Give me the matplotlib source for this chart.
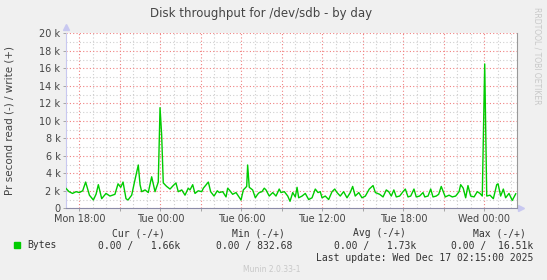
import matplotlib
matplotlib.use("Agg")
import matplotlib.pyplot as plt
from matplotlib.ticker import MultipleLocator, FuncFormatter

# hours relative to Mon 18:00, write throughput in kB/s
hours = [
  -1.00, -0.76, -0.50, -0.24, 0.00, 0.25, 0.47, 0.75, 1.04, 1.24, 1.41, 1.66, 1.98,
  2.27, 2.64, 2.87, 3.07, 3.24, 3.46, 3.61, 3.88, 4.13, 4.37, 4.50, 4.62, 4.87,
  5.11, 5.36, 5.61, 5.85, 5.98, 6.10, 6.22, 6.47, 6.72, 6.96, 7.16, 7.33, 7.59,
  7.83, 8.07, 8.20, 8.40, 8.57, 8.81, 9.07, 9.19, 9.56, 9.73, 9.98, 10.22, 10.37,
  10.62, 10.87, 10.99, 11.11, 11.36, 11.61, 11.98, 12.15, 12.40, 12.47, 12.59,
  12.84, 13.04, 13.21, 13.33, 13.53, 13.70, 13.83, 14.07, 14.33, 14.57, 14.81,
  14.94, 15.19, 15.44, 15.61, 15.81, 16.00, 16.13, 16.25, 16.50, 16.74, 16.99,
  17.24, 17.48, 17.68, 17.85, 17.98, 18.22, 18.47, 18.72, 18.92, 19.09, 19.33,
  19.58, 19.83, 20.07, 20.25, 20.44, 20.70, 20.94, 21.19, 21.48, 21.76, 21.93,
  22.25, 22.50, 22.74, 22.92, 23.11, 23.30, 23.48, 23.73, 23.98, 24.15, 24.35,
  24.55, 24.79, 24.96, 25.21, 25.46, 25.59, 25.83, 26.03, 26.20, 26.44, 26.62,
  26.81, 27.11, 27.39, 27.63, 27.88, 28.13, 28.25, 28.44, 28.62, 28.79, 28.99,
  29.24, 29.48, 29.68, 29.85, 30.03, 30.18, 30.42, 30.67, 30.92, 31.02, 31.21,
  31.41, 31.58, 31.83, 32.07, 32.33,
]
write_k = [
  2.3, 1.9, 1.7, 1.9, 1.8, 2.0, 3.0, 1.5, 0.95, 1.6, 2.7, 1.1, 1.7,
  1.4, 1.6, 2.8, 2.4, 3.0, 1.1, 0.95, 1.5, 3.3, 4.95, 2.7, 1.9, 2.1,
  1.8, 3.6, 1.9, 3.0, 11.5, 8.4, 2.9, 2.5, 2.2, 2.6, 2.9, 1.9, 2.1,
  1.5, 2.3, 2.1, 2.7, 1.7, 2.0, 1.9, 2.3, 3.0, 1.9, 1.4, 2.0, 1.8,
  1.9, 1.3, 2.3, 2.1, 1.6, 1.8, 0.95, 2.1, 2.5, 4.95, 2.4,
  2.1, 1.2, 1.6, 1.8, 1.9, 2.3, 2.1, 1.4, 1.8, 1.4, 2.2,
  1.8, 1.9, 1.4, 0.8, 1.8, 1.3, 2.4, 1.2, 1.4, 1.7, 1.0,
  1.2, 2.2, 1.8, 1.9, 1.2, 1.4, 1.0, 1.9, 2.2, 1.8, 1.4,
  1.9, 1.2, 1.8, 2.5, 1.4, 1.8, 1.2, 1.4, 2.2, 2.6, 1.8,
  1.6, 1.3, 2.1, 1.9, 1.4, 2.1, 1.3, 1.4, 1.9, 2.2, 1.3,
  1.4, 2.2, 1.3, 1.4, 1.8, 1.3, 1.4, 2.2, 1.3, 1.4, 1.6,
  2.5, 1.3, 1.5, 1.3, 1.4, 1.9, 2.7, 2.3, 1.2, 2.6, 1.4,
  1.3, 1.9, 1.7, 1.4, 16.5, 1.4, 1.5, 1.1, 2.7, 2.8, 1.4,
  2.2, 1.2, 1.7, 0.9, 1.66,
]
day_labels = {0: "Mon 18:00", 6: "Tue 00:00", 12: "Tue 06:00", 18: "Tue 12:00",
              24: "Tue 18:00", 30: "Wed 00:00"}

W, H = 547, 280
fig = plt.figure(figsize=(W / 100, H / 100), dpi=100, facecolor="#F0F0F0")
ax = fig.add_axes([66 / W, 1 - 208.3 / H, 450.7 / W, 175 / H])
ax.set_facecolor("white")

ax.plot(hours, write_k, color="#00CC00", lw=1.0, zorder=3)

ax.set_xlim(-0.985, 32.4)
ax.set_ylim(0, 20)

ax.xaxis.set_major_locator(MultipleLocator(3))
ax.xaxis.set_minor_locator(MultipleLocator(1))
ax.yaxis.set_major_locator(MultipleLocator(2))
ax.yaxis.set_minor_locator(MultipleLocator(1))
ax.xaxis.set_major_formatter(FuncFormatter(lambda v, p: day_labels.get(int(round(v)), "")))
ax.yaxis.set_major_formatter(FuncFormatter(lambda v, p: "0" if v == 0 else f"{int(v)} k"))

ax.grid(which="major", color="#F08080", ls=(0, (1, 2)), lw=0.8)
ax.grid(which="minor", color="#CFCFCF", ls=(0, (1, 2)), lw=0.8)
ax.tick_params(which="both", length=2, width=0.6, color="#999999", labelsize=7,
               labelcolor="#444444", pad=2)
ax.tick_params(axis="x", which="minor", length=0)
ax.tick_params(axis="y", which="minor", length=0)

ax.spines["top"].set_visible(False)
ax.spines["left"].set_color("#C8C8F0")
ax.spines["bottom"].set_color("#8C8CA8")
ax.spines["right"].set_color("#999999")
ax.plot([0], [1.035], marker="^", color="#C8C8F0", ms=4, transform=ax.transAxes, clip_on=False)
ax.plot([1.01], [0], marker=">", color="#C8C8F0", ms=4, transform=ax.transAxes, clip_on=False)

def px(x, y):
  return x / W, 1 - y / H

fig.text(*px(260.8, 13), "Disk throughput for /dev/sdb - by day", ha="center", va="center",
         fontsize=8.5, color="#444444")
fig.text(*px(10, 120.8), "Pr second read (-) / write (+)", rotation=90, ha="center",
         va="center", fontsize=7.5, color="#444444")
fig.text(*px(537, 7), "RRDTOOL / TOBI OETIKER", rotation=270, ha="center", va="top",
         fontsize=5.5, color="#C8C8C8")

mono = dict(family="DejaVu Sans Mono", fontsize=7, color="#333333", va="center")
fig.text(*px(112, 233.3), "Cur (-/+)", ha="left", **mono)
fig.text(*px(232, 233.3), "Min (-/+)", ha="left", **mono)
fig.text(*px(353, 233.3), "Avg (-/+)", ha="left", **mono)
fig.text(*px(473, 233.3), "Max (-/+)", ha="left", **mono)
fig.text(*px(27, 245.5), "Bytes", ha="left", **mono)
fig.text(*px(180, 245.5), "0.00 /   1.66k", ha="right", **mono)
fig.text(*px(292, 245.5), "0.00 / 832.68", ha="right", **mono)
fig.text(*px(416, 245.5), "0.00 /   1.73k", ha="right", **mono)
fig.text(*px(533, 245.5), "0.00 /  16.51k", ha="right", **mono)
fig.text(*px(533, 257.7), "Last update: Wed Dec 17 02:15:00 2025", ha="right", **mono)
fig.patches.append(plt.Rectangle(px(14, 248), 6 / W, 6 / H, transform=fig.transFigure,
                                 color="#00CC00"))
fig.text(*px(243, 269.5), "Munin 2.0.33-1", ha="left", va="center", fontsize=5.5,
         color="#C8C8C8")

fig.savefig("out.png", dpi=100, facecolor=fig.get_facecolor())
